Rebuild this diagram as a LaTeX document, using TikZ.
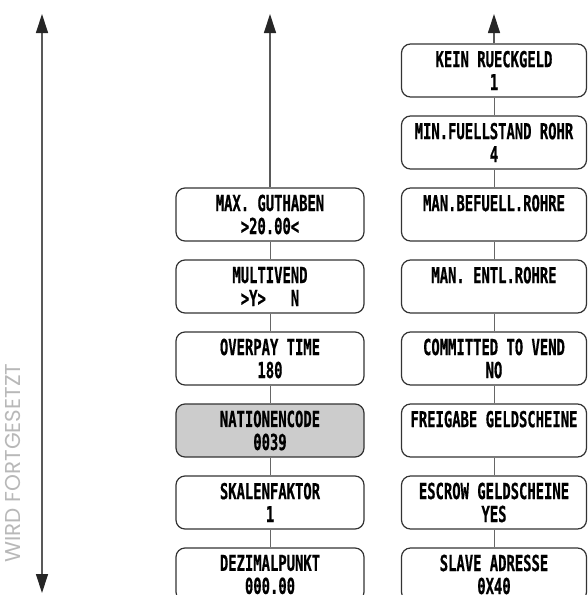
\documentclass[tikz,border=0pt]{standalone}
\usepackage{fontspec}
\usetikzlibrary{arrows.meta}
\newfontfamily\lcdfont{DejaVu Sans Mono}[FakeStretch=0.63,FakeBold=0.6]
\newfontfamily\thinfont{Poppins}
\frenchspacing

\begin{document}
\begin{tikzpicture}[x=1pt,y=-1pt,
    box/.style={draw=black!80, line width=1.2pt, rounded corners=9pt,
      minimum width=188pt, minimum height=53pt, inner sep=0pt,
      align=center, font=\lcdfont\bfseries\fontsize{22}{23}\selectfont,
      execute at begin node={\rule{0pt}{22pt}}},
    rbox/.style={box, minimum width=185pt},
    link/.style={draw=black!60, line width=1pt},
    up/.style={draw=black!65, line width=1.2pt,
      -{Triangle[length=19pt,width=12pt,black!85]}},
    both/.style={up, {Triangle[length=19pt,width=12pt,black!85]}-{Triangle[length=19pt,width=12pt,black!85]}}]
  \useasboundingbox (0,0) rectangle (587,595);
  \clip (0,0) rectangle (587,595);

  % left: continues
  \coordinate (ltop) at (42,14);
  \coordinate (lbot) at (42,593);
  \draw[both] (lbot) -- (ltop);
  \node[rotate=90, text=black!28, font=\thinfont\fontsize{21.5}{22}\selectfont]
    (wf) at (13,463) {WIRD FORTGESETZT};

  % middle column
  \node[box] (mg) at (270,214.5) {MAX. GUTHABEN\\>20.00<};
  \node[box] (mv) at (270,286.5) {MULTIVEND\\>Y>~~~N};
  \node[box] (ot) at (270,358.5) {OVERPAY TIME\\180};
  \node[box, fill=black!20] (nc) at (270,430.5) {NATIONENCODE\\0039};
  \node[box] (sf) at (270,502.5) {SKALENFAKTOR\\1};
  \node[box] (dp) at (270,574.5) {DEZIMALPUNKT\\000.00};

  \coordinate (mtop) at (270,14);
  \draw[up] (mg) -- (mtop);
  \draw[link] (mg) -- (mv);
  \draw[link] (mv) -- (ot);
  \draw[link] (ot) -- (nc);
  \draw[link] (nc) -- (sf);
  \draw[link] (sf) -- (dp);

  % right column
  \node[rbox] (kr) at (494,70.5) {KEIN RUECKGELD\\1};
  \node[rbox] (mf) at (494,142.5) {MIN.FUELLSTAND ROHR\\4};
  \node[rbox] (mb) at (494,214.5) {MAN.BEFUELL.ROHRE\\\mbox{}};
  \node[rbox] (me) at (494,286.5) {MAN. ENTL.ROHRE\\\mbox{}};
  \node[rbox] (cv) at (494,358.5) {COMMITTED TO VEND\\NO};
  \node[rbox] (fg) at (494,430.5) {FREIGABE GELDSCHEINE\\\mbox{}};
  \node[rbox] (eg) at (494,502.5) {ESCROW GELDSCHEINE\\YES};
  \node[rbox] (sa) at (494,574.5) {SLAVE ADRESSE\\0X40};

  \coordinate (rtop) at (494,14);
  \draw[up] (kr) -- (rtop);
  \draw[link] (kr) -- (mf);
  \draw[link] (mf) -- (mb);
  \draw[link] (mb) -- (me);
  \draw[link] (me) -- (cv);
  \draw[link] (cv) -- (fg);
  \draw[link] (fg) -- (eg);
  \draw[link] (eg) -- (sa);
\end{tikzpicture}
\end{document}
